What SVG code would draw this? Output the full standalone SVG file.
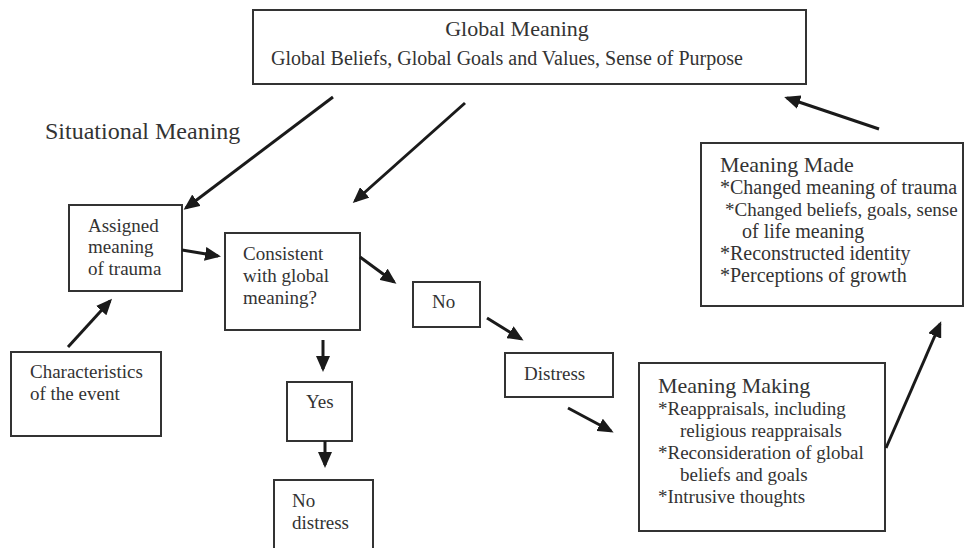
<svg xmlns="http://www.w3.org/2000/svg" width="968" height="548" viewBox="0 0 968 548">
<defs>
<style>
.box{fill:#fff;stroke:#333;stroke-width:2}
.t{font-family:"Liberation Serif","Times New Roman",serif;font-size:19px;fill:#333}
.t20{font-size:20px}
.title{font-size:22px}
.ar{stroke:#1a1a1a;stroke-width:3;fill:none;marker-end:url(#ah)}
</style>
<marker id="ah" viewBox="0 0 16 14" markerWidth="16" markerHeight="14" refX="13" refY="7" orient="auto" markerUnits="userSpaceOnUse">
<path d="M0,0 L16,7 L0,14 z" fill="#1a1a1a"/>
</marker>
</defs>
<rect width="968" height="548" fill="#fff"/>

<g id="global">
<rect class="box" x="253" y="10" width="553" height="74"/>
<text class="t title" x="517" y="36" text-anchor="middle">Global Meaning</text>
<text class="t t20" x="507" y="65" text-anchor="middle">Global Beliefs, Global Goals and Values, Sense of Purpose</text>
</g>

<g id="situational">
<text class="t" x="45" y="139" style="font-size:24px">Situational Meaning</text>
</g>

<g id="assigned">
<rect class="box" x="69" y="205" width="113" height="86"/>
<text class="t" x="88" y="232">Assigned</text>
<text class="t" x="88" y="253">meaning</text>
<text class="t" x="88" y="275">of trauma</text>
</g>

<g id="characteristics">
<rect class="box" x="11" y="352" width="150" height="84"/>
<text class="t" x="30" y="378">Characteristics</text>
<text class="t" x="30" y="400">of the event</text>
</g>

<g id="consistent">
<rect class="box" x="225" y="233" width="135" height="97"/>
<text class="t" x="243" y="260">Consistent</text>
<text class="t" x="243" y="282">with global</text>
<text class="t" x="243" y="304">meaning?</text>
</g>

<g id="no">
<rect class="box" x="413" y="282" width="67" height="45"/>
<text class="t" x="432" y="308">No</text>
</g>

<g id="distress">
<rect class="box" x="505" y="353" width="108" height="44"/>
<text class="t" x="524" y="380">Distress</text>
</g>

<g id="yes">
<rect class="box" x="287" y="382" width="65" height="59"/>
<text class="t" x="306" y="408">Yes</text>
</g>

<g id="nodistress">
<rect class="box" x="274" y="480" width="99" height="80"/>
<text class="t" x="292" y="507">No</text>
<text class="t" x="292" y="529">distress</text>
</g>

<g id="making">
<rect class="box" x="639" y="363" width="246" height="168"/>
<text class="t title" x="658" y="393">Meaning Making</text>
<text class="t" x="658" y="415">*Reappraisals, including</text>
<text class="t" x="680" y="437">religious reappraisals</text>
<text class="t" x="658" y="459">*Reconsideration of global</text>
<text class="t" x="680" y="481">beliefs and goals</text>
<text class="t" x="658" y="503">*Intrusive thoughts</text>
</g>

<g id="made">
<rect class="box" x="701" y="143" width="262" height="163"/>
<text class="t title" x="720" y="172">Meaning Made</text>
<text class="t t20" x="720" y="194">*Changed meaning of trauma</text>
<text class="t" x="725" y="216">*Changed beliefs, goals, sense</text>
<text class="t t20" x="742" y="238">of life meaning</text>
<text class="t t20" x="720" y="260">*Reconstructed identity</text>
<text class="t t20" x="720" y="282">*Perceptions of growth</text>
</g>

<g id="connectors">
<line class="ar" x1="333" y1="97" x2="186" y2="208"/>
<line class="ar" x1="465" y1="103" x2="355" y2="201"/>
<line class="ar" x1="182" y1="250" x2="218" y2="256"/>
<line class="ar" x1="68" y1="347" x2="110" y2="301"/>
<line class="ar" x1="360" y1="257" x2="394" y2="282"/>
<line class="ar" x1="487" y1="318" x2="521" y2="339"/>
<line class="ar" x1="568" y1="408" x2="611" y2="431"/>
<line class="ar" x1="323" y1="340" x2="323" y2="369"/>
<line class="ar" x1="325" y1="441" x2="325" y2="465"/>
<line class="ar" x1="886" y1="448" x2="940" y2="324"/>
<line class="ar" x1="879" y1="129" x2="787" y2="98"/>
</g>
</svg>
